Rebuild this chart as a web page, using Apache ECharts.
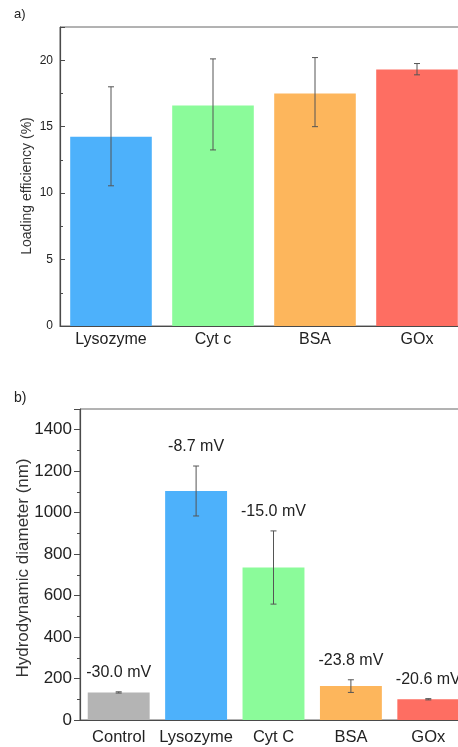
<!DOCTYPE html>
<html>
<head>
<meta charset="utf-8">
<script src="https://cdn.jsdelivr.net/npm/echarts@6/dist/echarts.min.js"></script>
<style>
    html, body { margin: 0; padding: 0; background: #fff; }
    #main { width: 458px; height: 747px; }
</style>
</head>
<body>
<div id="main"></div>
<script>
    // panel a) loading efficiency
    var aCategories = ['Lysozyme', 'Cyt c', 'BSA', 'GOx'];
    var aValues = [14.25, 16.6, 17.5, 19.3];
    var aErrLow = [10.55, 13.25, 15.0, 18.9];
    var aErrHigh = [18.0, 20.1, 20.2, 19.75];
    var aColors = ['#4DB1FB', '#8BFB9A', '#FDB65C', '#FE6E62'];

    // panel b) hydrodynamic diameter
    var bCategories = ['Control', 'Lysozyme', 'Cyt C', 'BSA', 'GOx'];
    var bValues = [133, 1105, 735, 164, 100];
    var bErrLow = [130, 984, 559, 133, 97];
    var bErrHigh = [136, 1225, 912, 194, 103];
    var bZeta = ['-30.0 mV', '-8.7 mV', '-15.0 mV', '-23.8 mV', '-20.6 mV'];
    var bColors = ['#B4B4B4', '#4DB1FB', '#8BFB9A', '#FDB65C', '#FE6E62'];

    var axisColor = '#4a4a4a';
    var textColor = '#222';
    var fontFamily = 'Liberation Sans, Arial, sans-serif';

    function errData(low, high) {
        var d = [];
        for (var i = 0; i < low.length; i++) {
            d.push([i, low[i], high[i]]);
        }
        return d;
    }

    // error bars (and optional label above them)
    function errRender(labels, fontSize) {
        return function (params, api) {
            var x = api.value(0);
            var lo = api.coord([x, api.value(1)]);
            var hi = api.coord([x, api.value(2)]);
            var cap = 3;
            var style = {stroke: '#555', lineWidth: 1};
            var children = [
                {type: 'line', shape: {x1: lo[0], y1: lo[1], x2: hi[0], y2: hi[1]}, style: style},
                {type: 'line', shape: {x1: lo[0] - cap, y1: lo[1], x2: lo[0] + cap, y2: lo[1]}, style: style},
                {type: 'line', shape: {x1: hi[0] - cap, y1: hi[1], x2: hi[0] + cap, y2: hi[1]}, style: style}
            ];
            if (labels) {
                children.push({
                    type: 'text',
                    style: {
                        x: hi[0], y: hi[1] - 11,
                        text: labels[params.dataIndex],
                        fill: textColor,
                        font: fontSize + 'px ' + fontFamily,
                        textAlign: 'center',
                        textVerticalAlign: 'bottom'
                    }
                });
            }
            return {type: 'group', children: children};
        };
    }

    function colorBars(values, colors) {
        var d = [];
        for (var i = 0; i < values.length; i++) {
            d.push({value: values[i], itemStyle: {color: colors[i]}});
        }
        return d;
    }

    var myChart = echarts.init(document.getElementById('main'));
    var option = {
        backgroundColor: '#fff',
        animation: false,
        grid: [
            {left: 60, top: 27, right: -10, bottom: 421, show: true, borderColor: '#666', borderWidth: 1,
                containLabel: false, outerBoundsMode: 'none'},
            {left: 80, top: 409, right: -9, bottom: 27, show: true, borderColor: '#666', borderWidth: 1,
                containLabel: false, outerBoundsMode: 'none'}
        ],
        graphic: [
            {type: 'text', left: 14, top: 8, style: {text: 'a)', font: '13px ' + fontFamily, fill: textColor}},
            {type: 'text', left: 14, top: 391, style: {text: 'b)', font: '14px ' + fontFamily, fill: textColor}},
            {type: 'text', x: 27, y: 186, rotation: Math.PI / 2,
                style: {text: 'Loading efficiency (%)', font: '14px ' + fontFamily, fill: '#333',
                    textAlign: 'center', textVerticalAlign: 'middle'}},
            {type: 'text', x: 23, y: 568, rotation: Math.PI / 2,
                style: {text: 'Hydrodynamic diameter (nm)', font: '17px ' + fontFamily, fill: '#333',
                    textAlign: 'center', textVerticalAlign: 'middle'}}
        ],
        xAxis: [
            {
                type: 'category', gridIndex: 0, data: aCategories,
                axisLine: {lineStyle: {color: axisColor, width: 1.2}},
                axisTick: {alignWithLabel: true, inside: true, length: 6, lineStyle: {color: axisColor}},
                axisLabel: {color: textColor, fontSize: 16, fontFamily: fontFamily, margin: 6,
                    interval: 0, hideOverlap: false}
            },
            {
                type: 'category', gridIndex: 0, data: aCategories, position: 'bottom',
                axisLine: {show: false},
                axisTick: {inside: true, length: 3, lineStyle: {color: axisColor}},
                axisLabel: {show: false}
            },
            {
                type: 'category', gridIndex: 1, data: bCategories,
                axisLine: {lineStyle: {color: axisColor, width: 1.2}},
                axisTick: {alignWithLabel: true, inside: true, length: 6, lineStyle: {color: axisColor}},
                axisLabel: {color: textColor, fontSize: 16.5, fontFamily: fontFamily, margin: 9,
                    interval: 0, hideOverlap: false}
            },
            {
                type: 'category', gridIndex: 1, data: bCategories, position: 'bottom',
                axisLine: {show: false},
                axisTick: {inside: true, length: 3, lineStyle: {color: axisColor}},
                axisLabel: {show: false}
            }
        ],
        yAxis: [
            {
                type: 'value', gridIndex: 0, min: 0, max: 22.5, interval: 5,
                axisLine: {show: true, lineStyle: {color: axisColor, width: 1.2}},
                axisTick: {show: true, inside: true, length: 5, lineStyle: {color: axisColor}},
                minorTick: {show: true, splitNumber: 2, length: 3, lineStyle: {color: axisColor}},
                splitLine: {show: false},
                axisLabel: {color: textColor, fontSize: 12, fontFamily: fontFamily, margin: 7,
                    showMaxLabel: false}
            },
            {
                type: 'value', gridIndex: 1, min: 0, max: 1500, interval: 200,
                axisLine: {show: true, lineStyle: {color: axisColor, width: 1.2}},
                axisTick: {show: true, inside: false, length: 6, lineStyle: {color: axisColor}},
                minorTick: {show: true, splitNumber: 2, length: 3, lineStyle: {color: axisColor}},
                splitLine: {show: false},
                axisLabel: {color: textColor, fontSize: 17, fontFamily: fontFamily, margin: 8,
                    formatter: function (v) { return v > 1400 ? '' : v; }}
            }
        ],
        series: [
            {
                type: 'bar', xAxisIndex: 0, yAxisIndex: 0, barWidth: '80%',
                data: colorBars(aValues, aColors)
            },
            {
                type: 'custom', xAxisIndex: 0, yAxisIndex: 0, z: 5,
                renderItem: errRender(null, 0),
                encode: {x: 0, y: [1, 2]},
                data: errData(aErrLow, aErrHigh)
            },
            {
                type: 'bar', xAxisIndex: 2, yAxisIndex: 1, barWidth: '80%',
                data: colorBars(bValues, bColors)
            },
            {
                type: 'custom', xAxisIndex: 2, yAxisIndex: 1, z: 5,
                renderItem: errRender(bZeta, 16),
                encode: {x: 0, y: [1, 2]},
                data: errData(bErrLow, bErrHigh)
            }
        ]
    };
    myChart.setOption(option);
</script>
</body>
</html>
